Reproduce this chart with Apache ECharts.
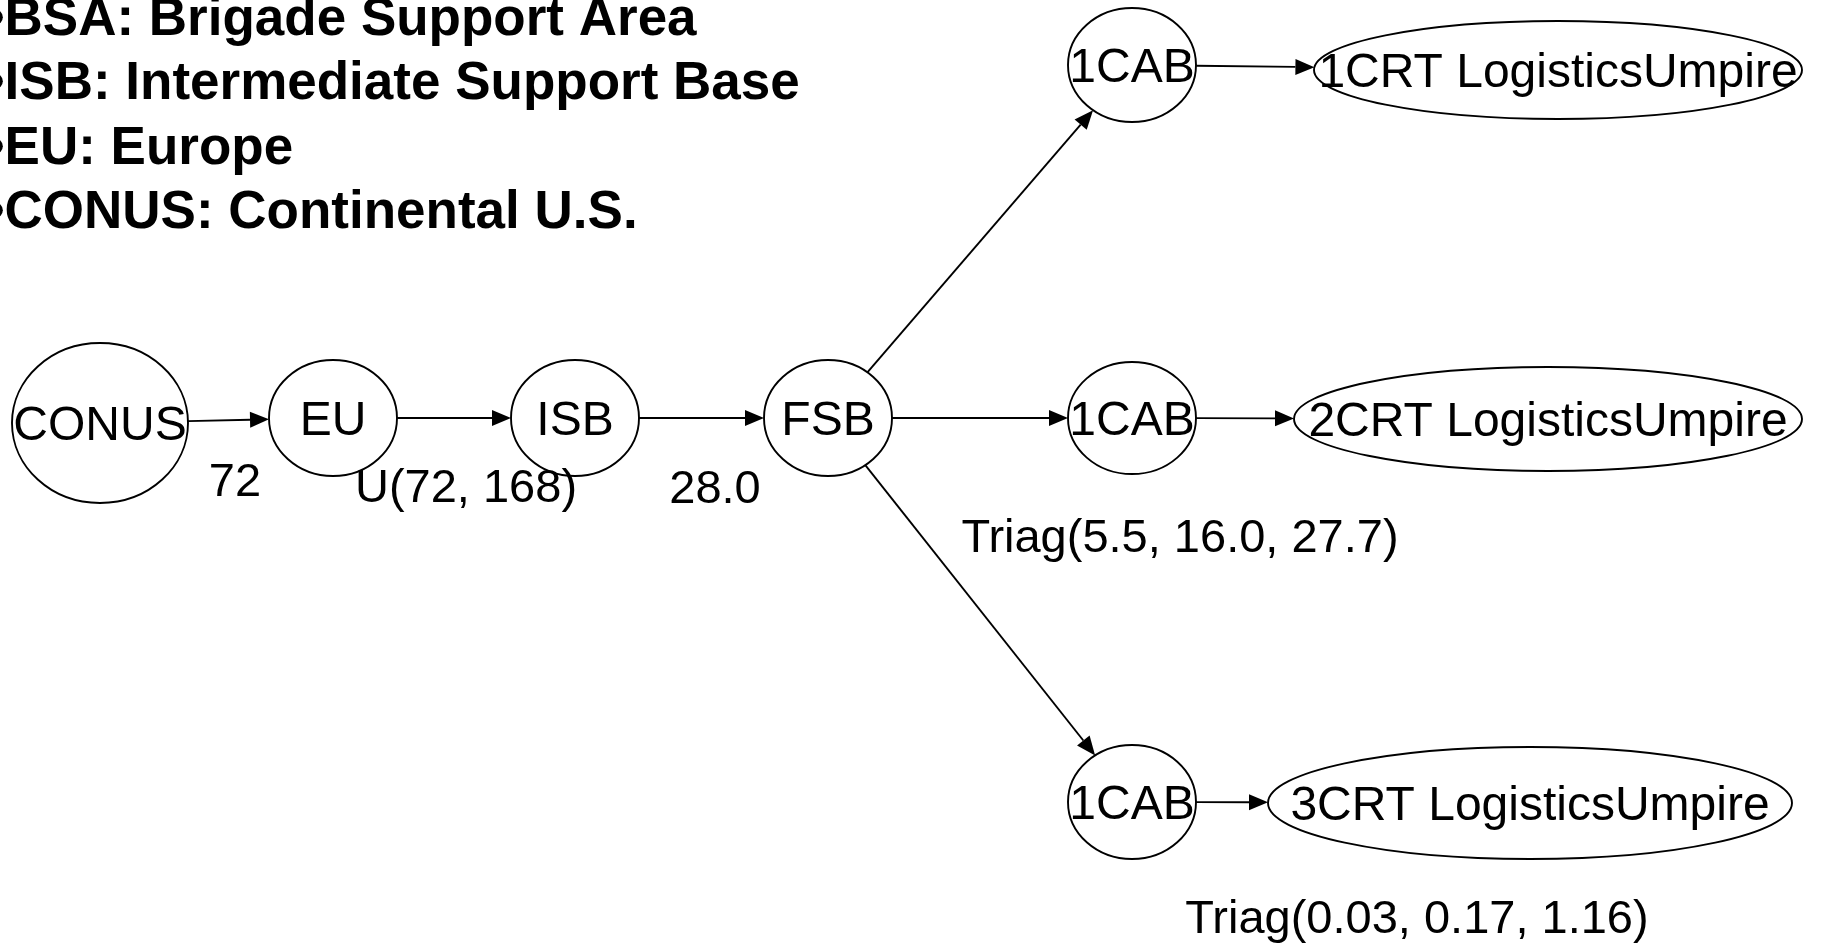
<!DOCTYPE html>
<html>
<head>
<meta charset="utf-8">
<title>Logistics delay chain</title>
<script src="https://cdn.jsdelivr.net/npm/echarts@6/dist/echarts.min.js"></script>
<style>
  html, body { margin: 0; padding: 0; background: #fff; }
  #chart { width: 1821px; height: 947px; }
</style>
</head>
<body>
<div id="chart"></div>
<script>
// abbreviations (top left)
const notes = [
  "•BSA: Brigade Support Area",
  "•ISB: Intermediate Support Base",
  "•EU: Europe",
  "•CONUS: Continental U.S."
];

// nodes of the chain, placed on a 1821 x 947 plane
const nodeNames = ["CONUS", "EU", "ISB", "FSB", "1CAB", "1CAB", "1CAB",
  "1CRT LogisticsUmpire", "2CRT LogisticsUmpire", "3CRT LogisticsUmpire"];
const nodeX = [100, 333, 575, 828, 1132, 1132, 1132, 1558, 1548, 1530];
const nodeY = [423, 418, 418, 418, 65, 418, 802, 70, 419, 803];

// links: from -> to (node index)
const linkFrom = [0, 1, 2, 3, 3, 3, 4, 5, 6];
const linkTo = [1, 2, 3, 4, 5, 6, 7, 8, 9];

// delay distributions written next to the links
const delayText = ["72", "U(72, 168)", "28.0", "Triag(5.5, 16.0, 27.7)", "Triag(0.03, 0.17, 1.16)"];
const delayX = [235, 466, 715, 1180, 1417];
const delayY = [479, 485, 486, 535, 916];

// node shape radii (style)
const nodeRx = [88, 64, 64, 64, 64, 64, 64, 244, 254, 262];
const nodeRy = [80, 58, 58, 58, 57, 56, 57, 49, 52, 56];

const FONT = '"Liberation Sans", Arial, sans-serif';
const LINE_W = 1.9;
const HEAD_LEN = 19;
const HEAD_HALF = 8;
const TEXT_SHIFT = 4; // canvas "middle" sits a bit above the cap centre

let chart = echarts.init(document.getElementById("chart"));

function radii(api, i) {
  const s = api.size([nodeRx[i], nodeRy[i]]);
  return [Math.abs(s[0]), Math.abs(s[1])];
}

const option = {
  animation: false,
  grid: { left: 0, right: 0, top: 0, bottom: 0 },
  xAxis: { type: "value", min: 0, max: 1821, show: false },
  yAxis: { type: "value", min: 0, max: 947, inverse: true, show: false },
  graphic: notes.map((t, i) => ({
    type: "text",
    x: -14,
    y: 20 + 64.5 * i,
    style: {
      text: t,
      fontSize: 53,
      fontWeight: "bold",
      fontFamily: FONT,
      fill: "#000",
      verticalAlign: "middle"
    }
  })),
  series: [
    {
      // arrows between nodes, cut at the ellipse borders
      type: "custom",
      name: "links",
      coordinateSystem: "cartesian2d",
      clip: false,
      silent: true,
      data: linkFrom.map((f, i) => [f, linkTo[i]]),
      renderItem: function (params, api) {
        const a = api.value(0);
        const b = api.value(1);
        const p0 = api.coord([nodeX[a], nodeY[a]]);
        const p1 = api.coord([nodeX[b], nodeY[b]]);
        const dx = p1[0] - p0[0];
        const dy = p1[1] - p0[1];
        const ra = radii(api, a);
        const rb = radii(api, b);
        const ta = 1 / Math.sqrt(Math.pow(dx / ra[0], 2) + Math.pow(dy / ra[1], 2));
        const tb = 1 / Math.sqrt(Math.pow(dx / rb[0], 2) + Math.pow(dy / rb[1], 2));
        const start = [p0[0] + dx * ta, p0[1] + dy * ta];
        const end = [p1[0] - dx * tb, p1[1] - dy * tb];
        const len = Math.sqrt(dx * dx + dy * dy);
        const ux = dx / len, uy = dy / len;
        const base = [end[0] - ux * HEAD_LEN, end[1] - uy * HEAD_LEN];
        return {
          type: "group",
          children: [
            {
              type: "line",
              shape: { x1: start[0], y1: start[1], x2: base[0], y2: base[1] },
              style: { stroke: "#000", lineWidth: LINE_W }
            },
            {
              type: "polygon",
              shape: {
                points: [
                  end,
                  [base[0] - uy * HEAD_HALF, base[1] + ux * HEAD_HALF],
                  [base[0] + uy * HEAD_HALF, base[1] - ux * HEAD_HALF]
                ]
              },
              style: { fill: "#000" }
            }
          ]
        };
      }
    },
    {
      type: "custom",
      name: "nodes",
      coordinateSystem: "cartesian2d",
      clip: false,
      silent: true,
      data: nodeNames.map((n, i) => [nodeX[i], nodeY[i], i]),
      renderItem: function (params, api) {
        const i = api.value(2);
        const c = api.coord([api.value(0), api.value(1)]);
        const r = radii(api, i);
        return {
          type: "group",
          children: [
            {
              type: "ellipse",
              shape: { cx: c[0], cy: c[1], rx: r[0], ry: r[1] },
              style: { fill: "#fff", stroke: "#000", lineWidth: LINE_W }
            },
            {
              type: "text",
              x: c[0],
              y: c[1] + TEXT_SHIFT,
              style: {
                text: nodeNames[i],
                fontSize: 48,
                fontFamily: FONT,
                fill: "#000",
                align: "center",
                verticalAlign: "middle"
              }
            }
          ]
        };
      }
    },
    {
      type: "custom",
      name: "delays",
      coordinateSystem: "cartesian2d",
      clip: false,
      silent: true,
      data: delayText.map((t, i) => [delayX[i], delayY[i], i]),
      renderItem: function (params, api) {
        const i = api.value(2);
        const c = api.coord([api.value(0), api.value(1)]);
        return {
          type: "text",
          x: c[0],
          y: c[1] + TEXT_SHIFT,
          style: {
            text: delayText[i],
            fontSize: 47,
            fontFamily: FONT,
            fill: "#000",
            align: "center",
            verticalAlign: "middle"
          }
        };
      }
    }
  ]
};

chart.setOption(option);
window.addEventListener("resize", () => chart.resize());
</script>
</body>
</html>
